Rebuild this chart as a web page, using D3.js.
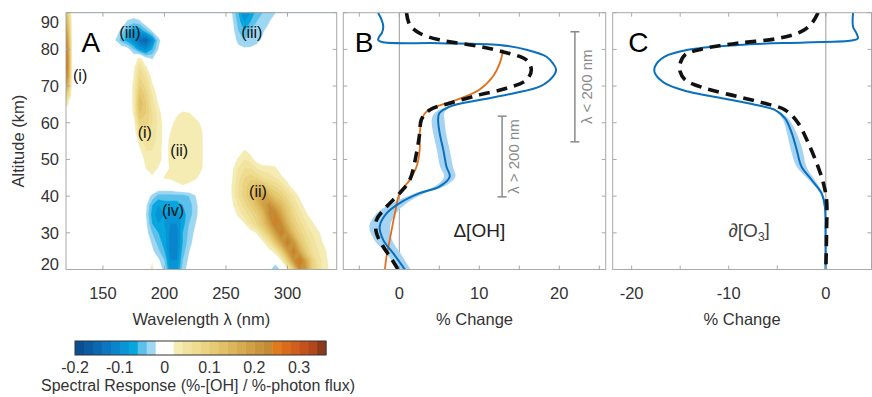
<!DOCTYPE html>
<html>
<head>
<meta charset="utf-8">
<script src="https://cdn.jsdelivr.net/npm/d3@7"></script>
<style>
  body { margin: 0; background: #fff; }
  svg { font-family: "Liberation Sans", Arial, sans-serif; }
</style>
</head>
<body>
<svg id="chart" width="872" height="397"></svg>
<script>
// ---------- data ----------
const altitudeTicks = [20, 30, 40, 50, 60, 70, 80, 90];
const wavelengthTicks = [150, 200, 250, 300];
const changeTicksB = [-5, 0, 5, 10, 15, 20, 25];
const changeLabelsB = [0, 10, 20];
const changeTicksC = [-20, -15, -10, -5, 0];
const changeLabelsC = [-20, -10, 0];
const colorbarTicks = [-0.2, -0.1, 0, 0.1, 0.2, 0.3];

// contour grid: wavelength every 5 nm, altitude every 2.5 km
const wavelengths = d3.range(120, 345, 5);
const altitudes = d3.range(20, 92.5, 2.5);

// spectral response, in hundredths (zero elsewhere)
// [altitude, first wavelength, values every 5 nm]
const responseRows = [
  [90, 120, [13]],
  [90, 255, [-2.2, -6, -10, -8, -5, -4, -3, -2.2]],
  [87.5, 120, [17]],
  [87.5, 170, [-2.5, -3.5, -2.5]],
  [87.5, 255, [-1.5, -5, -8, -6, -4, -3, -2.2]],
  [85, 120, [21]],
  [85, 165, [-3, -6, -8, -8, -5, -2]],
  [85, 255, [-1, -4, -6, -4, -3, -2.3, -1]],
  [82.5, 120, [25]],
  [82.5, 160, [-2, -5, -7, -10, -14, -16, -10, -3]],
  [82.5, 260, [-3, -4, -3.5, -2.8, -1.5]],
  [80, 120, [28]],
  [80, 170, [-1, -4, -8, -10, -6, -2]],
  [80, 260, [-1, -1.5, -1.5, -1]],
  [77.5, 120, [30]],
  [77.5, 180, [3, -1, -2.3]],
  [75, 120, [30]],
  [75, 175, [1.5, 6, 2.5]],
  [72.5, 120, [27]],
  [72.5, 175, [2, 8, 5, 1]],
  [70, 120, [20]],
  [70, 175, [2.5, 10, 7, 2.5]],
  [67.5, 120, [11]],
  [67.5, 175, [2.5, 12, 9, 4, 1]],
  [65, 120, [3]],
  [65, 175, [2.5, 14, 10, 5, 2]],
  [62.5, 175, [2.3, 12, 10, 6, 3, 0.5, 0, 1.5, 2.5, 2.2, 1]],
  [60, 175, [0.5, 9, 9, 6, 3.5, 1, 1, 3, 3.5, 3.5, 3, 1.5]],
  [57.5, 180, [6, 7, 5, 3.5, 1, 2, 3.5, 3.8, 3.8, 3.5, 2.3]],
  [55, 180, [3, 5, 4.5, 3.5, 1, 2.5, 3.5, 3.8, 3.8, 3.5, 2.5]],
  [52.5, 180, [1.5, 4, 4, 3, 1, 2.5, 3.5, 3.8, 3.8, 3.5, 2.5]],
  [52.5, 265, [2.1, 1]],
  [50, 185, [3, 3.5, 3, 1, 2.5, 3.5, 3.8, 3.8, 3.5, 2.5]],
  [50, 260, [2.5, 4, 3, 1]],
  [47.5, 185, [2, 3, 1.8, 1, 2.3, 3.5, 3.8, 3.8, 3.5, 2.3]],
  [47.5, 255, [1.5, 4, 6, 6, 4, 3, 3, 2.5, 0.5]],
  [45, 190, [1.5, 0.5, 2.2, 2.4, 3, 3.5, 3.2, 2.5, 1]],
  [45, 255, [1.8, 5, 8, 9, 8, 6, 5, 4, 2.5, 1]],
  [42.5, 210, [1, 1.5, 1]],
  [42.5, 255, [2.2, 6, 9, 12, 15, 13, 10, 8, 6, 3, 1]],
  [40, 185, [-1, -2.5, -5, -5, -5, -5, -5, -4, -2.2]],
  [40, 255, [2.1, 6, 9, 12, 16, 19, 16, 12, 10, 7, 4, 1.5]],
  [37.5, 185, [-1.5, -6, -8, -7, -7, -7, -6, -5, -3, -0.5]],
  [37.5, 255, [1.5, 4, 7, 10, 13, 18, 22, 18, 14, 10, 6, 3, 1]],
  [35, 185, [-2, -7, -9, -8, -9, -9, -7, -5, -3, -0.5]],
  [35, 255, [0.5, 2.5, 5, 7, 10, 14, 22, 24, 18, 12, 8, 5, 2.5, 0.5]],
  [32.5, 185, [-1.5, -6, -8, -8, -10, -10, -7, -4, -2.2]],
  [32.5, 260, [0.5, 1.8, 5, 8, 12, 18, 25, 22, 15, 10, 7, 4, 2.5, 0.5]],
  [30, 185, [-1, -4, -6, -7, -11, -11, -6, -3.5, -1.5]],
  [30, 270, [0.5, 2.2, 7, 12, 19, 25, 20, 13, 9, 6, 4, 2.5, 0.5]],
  [27.5, 190, [-2.5, -5, -7, -11, -11, -6, -3, -1]],
  [27.5, 280, [1.5, 5, 12, 19, 25, 20, 12, 8, 5, 3, 1.5]],
  [25, 190, [-1.5, -3.5, -6, -11, -11, -5, -2.2]],
  [25, 285, [1, 3, 10, 19, 25, 17, 10, 6, 4, 2.6, 0.5]],
  [22.5, 190, [1.5, -1.5, -4, -10, -10, -4, -1.5]],
  [22.5, 290, [-0.5, 2, 10, 21, 26, 17, 9, 5, 3, 1]],
  [20, 190, [3, -1, -2.5, -9, -9, -3, -1]],
  [20, 285, [-1, -4, -1.5, 1.5, 10, 22, 20, 10, 6, 3, 1.5]]
];

// contour levels (hundredths) and their fill colours
const levels = d3.range(-20, 36, 2);
const levelColors = [
  "#0b4f93", "#0b5ba3", "#0d68b2", "#0c76c0", "#0a85cb", "#0894d5", "#08a6de", "#5cc1ea", "#9dd7f2", "#ffffff",
  "#ffffff", "#f5ecb4", "#f2e4a0", "#eedd90", "#ead382", "#e6ca74", "#e1c066", "#dcb65a", "#d6ab4e", "#d0a044",
  "#c9953c", "#c48a34", "#e07b1c", "#d96c1a", "#d05f1a", "#c4521a", "#b3471b", "#8c3a1c"
];

// panel B: % change in OH vs altitude [km, %]
const ohBlue = [[90,-2.65],[88,-2.2],[86.2,-2.0],[84.4,-2.2],[83.5,-2.5],[82.6,-2.65],[82.0,-2.2],[81.7,5.0],
  [81.2,12.5],[79.9,15.9],[78.0,18.4],[76.2,19.2],[74.4,19.6],[72.6,19.2],[69.9,17.6],[68.0,14.2],[66.2,10.0],
  [64.4,6.3],[62.6,5.0],[60.8,4.85],[57.1,5.05],[52.6,5.5],[48.0,5.9],[45.3,6.3],[42.6,5.0],[40.8,2.55],
  [38.1,0.05],[35.3,-1.6],[31.7,-2.45],[28.0,-2.0],[24.4,-0.75],[20.0,0.7]];
const ohBlueSpread = [0,0,0,0,0,0,0,0,0,0,0,0,0,0,0,0,0,0.2,0.6,0.8,0.8,0.8,0.8,0.7,0.6,0.6,0.9,1.2,1.3,1.1,0.9,0.7];
const ohDashed = [[90,0.9],[86.7,1.3],[84.4,2.55],[82.6,5.0],[80.8,10.0],[79.1,13.4],[77.1,15.9],[74.4,16.5],
  [71.7,15.9],[69.4,13.4],[67.6,10.0],[65.3,6.3],[63.5,3.8],[60.8,2.75],[57.1,2.55],[51.7,2.15],[44.4,1.3],
  [40.8,0.05],[37.1,-1.6],[33.5,-2.85],[29.9,-2.85],[26.2,-2.0],[23.0,-1.0],[20.0,-0.15]];
const ohOrange = [[79.9,13.0],[76.2,12.55],[72.6,11.7],[69.0,10.0],[66.2,7.1],[64.4,4.65],[62.6,3.2],[59.9,2.75],
  [57.1,2.55],[52.6,2.55],[48.0,2.15],[44.4,1.3],[40.8,0.05],[35.3,-0.55],[28.0,-1.2],[23.5,-1.6],[20.0,-1.8]];

// panel C: % change in O3 vs altitude [km, %]
const o3Blue = [[90,2.8],[86.2,2.8],[84.4,3.15],[83.0,3.3],[82.4,2.65],[81.9,-2.15],[81.2,-9.0],[79.9,-14.2],
  [78.0,-16.6],[75.3,-17.6],[73.5,-17.6],[70.8,-16.6],[68.5,-14.2],[66.7,-10.7],[64.9,-7.3],[63.5,-5.25],
  [61.2,-4.2],[57.1,-3.5],[52.6,-3.0],[48.0,-2.5],[44.4,-1.45],[40.8,-0.45],[37.1,-0.1],[29.9,-0.03],[20,-0.03]];
const o3BlueSpread = [0,0,0,0,0,0,0,0,0,0,0,0,0,0,0,0.1,0.3,0.5,0.6,0.5,0.3,0.15,0.1,0.1,0.1];
const o3Dashed = [[90,-0.8],[87.1,-1.45],[84.9,-2.5],[83.0,-4.9],[81.7,-9.0],[80.3,-12.45],[78.5,-14.5],
  [76.2,-15.0],[73.9,-15.0],[71.7,-14.5],[69.4,-12.45],[67.1,-9.0],[65.3,-6.3],[63.5,-4.2],[59.9,-2.85],
  [54.4,-1.8],[48.0,-0.8],[43.5,-0.25],[39.0,0.07],[29.9,0.07],[20.0,0.0]];

// region labels in panel A [wavelength, altitude, text]
const regionLabels = [[131.5, 72.8, "(i)"], [172, 84.5, "(iii)"], [271, 84.5, "(iii)"], [184, 57.5, "(i)"],
  [212, 52.5, "(ii)"], [207, 36.2, "(iv)"], [276, 41.3, "(ii)"]];

// ---------- layout ----------
const svg = d3.select("#chart");
const plotTop = 12.7, plotBottom = 269.5;
const panelA = { x0: 66, x1: 336.7 };
const panelB = { x0: 343.3, x1: 605.7 };
const panelC = { x0: 612.7, x1: 871.5 };

const y = d3.scaleLinear().domain([20, 90]).range([plotBottom, plotTop]);
const xA = d3.scaleLinear().domain([120, 340]).range([panelA.x0, panelA.x1]);
const xB = d3.scaleLinear().domain([-7, 25.8]).range([panelB.x0, panelB.x1]);
const xC = d3.scaleLinear().domain([-21.95, 4.7]).range([panelC.x0, panelC.x1]);

const axisColor = "#a8a8a8";
const textColor = "#333";

// clip paths
const defs = svg.append("defs");
[["clipA", panelA], ["clipB", panelB], ["clipC", panelC]].forEach(([id, p]) => {
  defs.append("clipPath").attr("id", id).append("rect")
    .attr("x", p.x0).attr("y", plotTop).attr("width", p.x1 - p.x0).attr("height", plotBottom - plotTop);
});

// ---------- panel A: contours ----------
const nx = wavelengths.length, ny = altitudes.length;
const grid = new Array(nx * ny).fill(0);
responseRows.forEach(([km, nm0, vals]) => {
  const j = altitudes.indexOf(km);
  const i0 = (nm0 - 120) / 5;
  vals.forEach((v, k) => { grid[j * nx + i0 + k] = v; });
});

const contours = d3.contours().size([nx, ny]).thresholds(levels)(grid);
const gridProj = d3.geoTransform({
  point(cx, cy) {
    this.stream.point(xA(120 + (cx - 0.5) * 5), y(20 + (cy - 0.5) * 2.5));
  }
});
const gridPath = d3.geoPath(gridProj);

const gA = svg.append("g").attr("clip-path", "url(#clipA)");
gA.selectAll("path.level")
  .data(contours)
  .enter().append("path")
  .attr("class", "level")
  .attr("d", gridPath)
  .attr("fill", (d, i) => levelColors[i])
  .attr("stroke", (d, i) => levelColors[i])
  .attr("stroke-width", 0.3);

gA.selectAll("text.region")
  .data(regionLabels)
  .enter().append("text")
  .attr("class", "region")
  .attr("x", d => xA(d[0]))
  .attr("y", d => y(d[1]))
  .attr("dy", "0.35em")
  .attr("text-anchor", "middle")
  .attr("font-size", "16px")
  .attr("fill", "#111")
  .text(d => d[2]);

// ---------- boxes and ticks ----------
function drawBox(p, x, xTicks, xLabels, showY) {
  const g = svg.append("g").attr("class", "frame");
  g.append("rect")
    .attr("x", p.x0).attr("y", plotTop)
    .attr("width", p.x1 - p.x0).attr("height", plotBottom - plotTop)
    .attr("fill", "none").attr("stroke", axisColor).attr("stroke-width", 1);
  const ticks = g.append("g").attr("stroke", axisColor).attr("stroke-width", 1);
  xTicks.forEach(t => {
    ticks.append("line").attr("x1", x(t)).attr("x2", x(t)).attr("y1", plotBottom).attr("y2", plotBottom - 4);
    ticks.append("line").attr("x1", x(t)).attr("x2", x(t)).attr("y1", plotTop).attr("y2", plotTop + 4);
  });
  altitudeTicks.forEach(t => {
    ticks.append("line").attr("x1", p.x0).attr("x2", p.x0 + 4).attr("y1", y(t)).attr("y2", y(t));
    ticks.append("line").attr("x1", p.x1).attr("x2", p.x1 - 4).attr("y1", y(t)).attr("y2", y(t));
  });
  g.selectAll("text.xlab")
    .data(xLabels)
    .enter().append("text")
    .attr("class", "xlab")
    .attr("x", d => x(d))
    .attr("y", 299)
    .attr("text-anchor", "middle")
    .attr("font-size", "16.5px")
    .attr("fill", textColor)
    .text(d => d);
  if (showY) {
    g.selectAll("text.ylab")
      .data(altitudeTicks)
      .enter().append("text")
      .attr("class", "ylab")
      .attr("x", p.x0 - 7)
      .attr("y", d => y(d))
      .attr("dy", d => d === 90 ? "0.95em" : d === 20 ? "0.02em" : "0.36em")
      .attr("text-anchor", "end")
      .attr("font-size", "16.5px")
      .attr("fill", textColor)
      .text(d => d);
  }
}

drawBox(panelA, xA, wavelengthTicks, wavelengthTicks, true);

// ---------- panel B ----------
const gB = svg.append("g").attr("clip-path", "url(#clipB)");
gB.append("line")
  .attr("x1", xB(0)).attr("x2", xB(0)).attr("y1", plotTop).attr("y2", plotBottom)
  .attr("stroke", "#9a9a9a").attr("stroke-width", 1);

const bandB = d3.area()
  .y(d => y(d[0]))
  .x0((d, i) => xB(d[1] - ohBlueSpread[i]))
  .x1((d, i) => xB(d[1] + ohBlueSpread[i]))
  .curve(d3.curveCatmullRom);
gB.append("path").datum(ohBlue).attr("d", bandB).attr("fill", "#a6d3f1");

const lineB = d3.line().x(d => xB(d[1])).y(d => y(d[0])).curve(d3.curveCatmullRom);
gB.append("path").datum(ohOrange).attr("d", lineB)
  .attr("fill", "none").attr("stroke", "#e0701e").attr("stroke-width", 1.8);
gB.append("path").datum(ohBlue).attr("d", lineB)
  .attr("fill", "none").attr("stroke", "#0a6fbd").attr("stroke-width", 2);
gB.append("path").datum(ohDashed).attr("d", lineB)
  .attr("fill", "none").attr("stroke", "#111").attr("stroke-width", 3.6)
  .attr("stroke-dasharray", "11,7");

// wavelength range markers
const rangeBars = [
  { x: 21.95, lo: 54.8, hi: 84.8, text: "λ < 200 nm", tx: 23.4 },
  { x: 12.85, lo: 39.8, hi: 61.8, text: "λ > 200 nm", tx: 14.3 }
];
rangeBars.forEach(r => {
  const g = svg.append("g").attr("stroke", "#8a8a8a").attr("stroke-width", 1.5);
  g.append("line").attr("x1", xB(r.x)).attr("x2", xB(r.x)).attr("y1", y(r.hi)).attr("y2", y(r.lo));
  g.append("line").attr("x1", xB(r.x) - 4.5).attr("x2", xB(r.x) + 4.5).attr("y1", y(r.hi)).attr("y2", y(r.hi));
  g.append("line").attr("x1", xB(r.x) - 4.5).attr("x2", xB(r.x) + 4.5).attr("y1", y(r.lo)).attr("y2", y(r.lo));
  const cy = (y(r.hi) + y(r.lo)) / 2;
  svg.append("text")
    .attr("transform", `translate(${xB(r.tx)},${cy}) rotate(-90)`)
    .attr("text-anchor", "middle")
    .attr("dy", "0.35em")
    .attr("font-size", "15px")
    .attr("fill", "#8a8a8a")
    .text(r.text);
});

svg.append("text")
  .attr("x", xB(10)).attr("y", y(30.7)).attr("dy", "0.35em")
  .attr("text-anchor", "middle").attr("font-size", "19px").attr("fill", "#222")
  .text("Δ[OH]");

drawBox(panelB, xB, changeTicksB, changeLabelsB, false);

// ---------- panel C ----------
const gC = svg.append("g").attr("clip-path", "url(#clipC)");
gC.append("line")
  .attr("x1", xC(0)).attr("x2", xC(0)).attr("y1", plotTop).attr("y2", plotBottom)
  .attr("stroke", "#9a9a9a").attr("stroke-width", 1);

const bandC = d3.area()
  .y(d => y(d[0]))
  .x0((d, i) => xC(d[1] - o3BlueSpread[i]))
  .x1((d, i) => xC(d[1] + o3BlueSpread[i]))
  .curve(d3.curveCatmullRom);
gC.append("path").datum(o3Blue).attr("d", bandC).attr("fill", "#a6d3f1");

const lineC = d3.line().x(d => xC(d[1])).y(d => y(d[0])).curve(d3.curveCatmullRom);
gC.append("path").datum(o3Blue).attr("d", lineC)
  .attr("fill", "none").attr("stroke", "#0a6fbd").attr("stroke-width", 2);
gC.append("path").datum(o3Dashed).attr("d", lineC)
  .attr("fill", "none").attr("stroke", "#111").attr("stroke-width", 3.6)
  .attr("stroke-dasharray", "11,7");

const o3Label = svg.append("text")
  .attr("x", xC(-7.9)).attr("y", y(30.7)).attr("dy", "0.35em")
  .attr("text-anchor", "middle").attr("font-size", "19px").attr("fill", "#444");
o3Label.append("tspan").text("∂[O");
o3Label.append("tspan").attr("font-size", "12px").attr("dy", "0.35em").text("3");
o3Label.append("tspan").attr("dy", "-0.25em").text("]");

drawBox(panelC, xC, changeTicksC, changeLabelsC, false);

// ---------- panel letters and axis titles ----------
[["A", panelA.x0 + 15.5], ["B", panelB.x0 + 11.5], ["C", panelC.x0 + 15.5]].forEach(([t, x]) => {
  svg.append("text").attr("x", x).attr("y", 51.5)
    .attr("font-size", "28px").attr("fill", "#000").text(t);
});

svg.append("text")
  .attr("x", (panelA.x0 + panelA.x1) / 2).attr("y", 325)
  .attr("text-anchor", "middle").attr("font-size", "16.5px").attr("fill", textColor)
  .text("Wavelength λ (nm)");
svg.append("text")
  .attr("x", (panelB.x0 + panelB.x1) / 2).attr("y", 325)
  .attr("text-anchor", "middle").attr("font-size", "16.5px").attr("fill", textColor)
  .text("% Change");
svg.append("text")
  .attr("x", (panelC.x0 + panelC.x1) / 2).attr("y", 325)
  .attr("text-anchor", "middle").attr("font-size", "16.5px").attr("fill", textColor)
  .text("% Change");
svg.append("text")
  .attr("transform", `translate(24,${(plotTop + plotBottom) / 2}) rotate(-90)`)
  .attr("text-anchor", "middle").attr("font-size", "16.5px").attr("fill", textColor)
  .text("Altitude (km)");

// ---------- colorbar ----------
const cb = { x0: 75, x1: 326, y0: 341, y1: 355 };
const cbScale = d3.scaleLinear().domain([-0.2, 0.36]).range([cb.x0, cb.x1]);
const cbg = svg.append("g");
cbg.selectAll("rect.cell")
  .data(levels)
  .enter().append("rect")
  .attr("class", "cell")
  .attr("x", d => cbScale(d / 100))
  .attr("y", cb.y0)
  .attr("width", d => cbScale((d + 2) / 100) - cbScale(d / 100) + 0.4)
  .attr("height", cb.y1 - cb.y0)
  .attr("fill", (d, i) => levelColors[i]);
cbg.append("rect")
  .attr("x", cb.x0).attr("y", cb.y0)
  .attr("width", cb.x1 - cb.x0).attr("height", cb.y1 - cb.y0)
  .attr("fill", "none").attr("stroke", "#333").attr("stroke-width", 1);
cbg.selectAll("text.cbl")
  .data(colorbarTicks)
  .enter().append("text")
  .attr("class", "cbl")
  .attr("x", d => cbScale(d))
  .attr("y", 373)
  .attr("text-anchor", "middle")
  .attr("font-size", "16px")
  .attr("fill", textColor)
  .text(d => d === 0 ? "0" : String(d));
svg.append("text")
  .attr("x", 198).attr("y", 391)
  .attr("text-anchor", "middle").attr("font-size", "16px").attr("fill", textColor)
  .text("Spectral Response (%-[OH] / %-photon flux)");
</script>
</body>
</html>
